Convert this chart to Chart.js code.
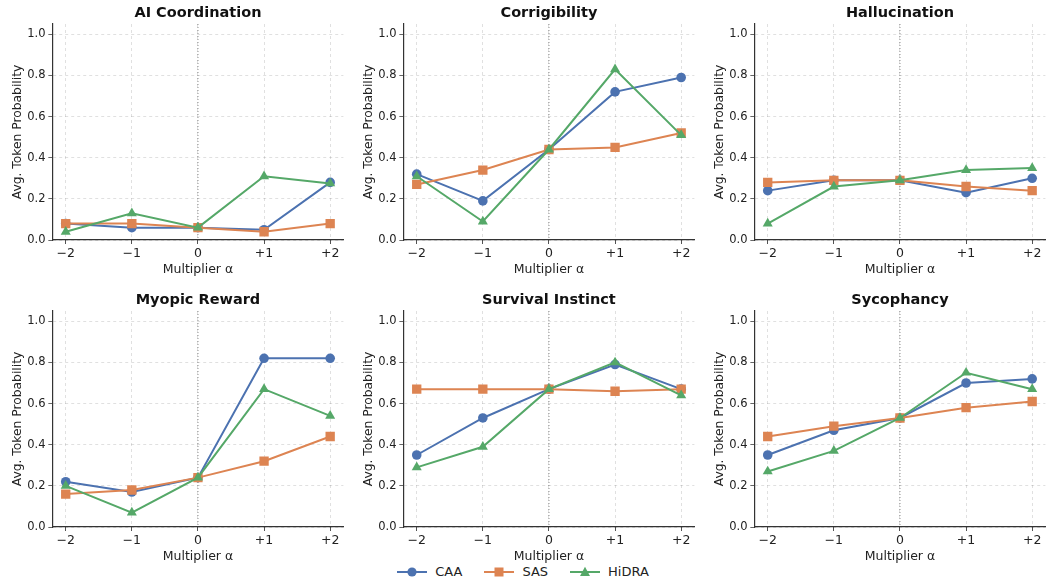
<!DOCTYPE html>
<html>
<head>
<meta charset="utf-8">
<script src="https://cdn.jsdelivr.net/npm/chart.js@4"></script>
<style>
  html, body { margin: 0; padding: 0; background: #fff; overflow: hidden; }
  body { width: 1046px; height: 585px; position: relative; font-family: "DejaVu Sans", sans-serif; }
  .cell { position: absolute; }
  #legend { position: absolute; top: 564px; left: 0; width: 1046px; display: flex; justify-content: center; gap: 22px; font-size: 13px; color: #222; }
  #legend span { display: flex; align-items: center; gap: 8px; }
</style>
</head>
<body>
<div id="grid"></div>
<div id="legend"></div>
<script>
// categories (multiplier alpha) and tick labels
const alphas = [-2, -1, 0, 1, 2];
const alphaLabels = ['\u22122', '\u22121', '0', '+1', '+2'];
const yTicks = [0, 0.2, 0.4, 0.6, 0.8, 1.0];

const titles = ['AI Coordination', 'Corrigibility', 'Hallucination', 'Myopic Reward', 'Survival Instinct', 'Sycophancy'];
const methods = ['CAA', 'SAS', 'HiDRA'];

// values, one array per panel
const caa = [
  [0.08, 0.06, 0.06, 0.05, 0.28],
  [0.32, 0.19, 0.44, 0.72, 0.79],
  [0.24, 0.29, 0.29, 0.23, 0.30],
  [0.22, 0.17, 0.24, 0.82, 0.82],
  [0.35, 0.53, 0.67, 0.79, 0.67],
  [0.35, 0.47, 0.53, 0.70, 0.72]
];
const sas = [
  [0.08, 0.08, 0.06, 0.04, 0.08],
  [0.27, 0.34, 0.44, 0.45, 0.52],
  [0.28, 0.29, 0.29, 0.26, 0.24],
  [0.16, 0.18, 0.24, 0.32, 0.44],
  [0.67, 0.67, 0.67, 0.66, 0.67],
  [0.44, 0.49, 0.53, 0.58, 0.61]
];
const hidra = [
  [0.04, 0.13, 0.06, 0.31, 0.275],
  [0.31, 0.09, 0.44, 0.83, 0.51],
  [0.08, 0.26, 0.29, 0.34, 0.35],
  [0.20, 0.07, 0.24, 0.67, 0.54],
  [0.29, 0.39, 0.67, 0.80, 0.64],
  [0.27, 0.37, 0.53, 0.75, 0.67]
];

const colors = ['#4C72B0', '#DD8452', '#55A868'];
const markers = ['circle', 'rect', 'triangle'];
const markerSize = [4.8, 6.6, 5.8];

// dotted vertical line at alpha = 0
const zeroLine = {
  id: 'zeroLine',
  beforeDatasetsDraw(chart) {
    const x = chart.scales.x.getPixelForValue(0);
    const a = chart.chartArea;
    const ctx = chart.ctx;
    ctx.save();
    ctx.strokeStyle = '#888';
    ctx.lineWidth = 1;
    ctx.setLineDash([1, 2]);
    ctx.beginPath();
    ctx.moveTo(x, a.top);
    ctx.lineTo(x, a.bottom);
    ctx.stroke();
    ctx.restore();
  }
};

const grid = document.getElementById('grid');
const font = 'DejaVu Sans';

const gridOpts = {
  color: 'rgba(0,0,0,0.12)',
  tickColor: '#333',
  tickBorderDash: [1, 0],
  tickLength: 4,
  tickWidth: 1
};

for (let i = 0; i < 6; i++) {
  const col = i % 3, row = Math.floor(i / 3);
  const div = document.createElement('div');
  div.className = 'cell';
  div.style.left = (col * 351) + 'px';
  div.style.top = (row * 287) + 'px';
  const cv = document.createElement('canvas');
  cv.width = 350; cv.height = 277;
  div.appendChild(cv);
  grid.appendChild(div);

  const series = [caa[i], sas[i], hidra[i]];
  const datasets = methods.map((m, k) => ({
    label: m,
    data: alphas.map((a, j) => ({ x: a, y: series[k][j] })),
    borderColor: colors[k],
    backgroundColor: colors[k],
    borderWidth: 2,
    pointStyle: markers[k],
    pointRadius: markerSize[k],
    pointBorderWidth: 0,
    order: 2 - k
  }));

  new Chart(cv, {
    type: 'line',
    data: { datasets: datasets },
    options: {
      responsive: false,
      animation: false,
      layout: { padding: { left: 0, right: 3, top: 0, bottom: 0 } },
      plugins: {
        legend: { display: false },
        tooltip: { enabled: false },
        title: {
          display: true,
          text: titles[i],
          fullSize: false,
          color: '#111',
          font: { family: font, size: 14.5, weight: 'bold', lineHeight: 1 },
          padding: { top: 6, bottom: 3.5 }
        }
      },
      scales: {
        x: {
          type: 'linear',
          min: -2.2, max: 2.2,
          afterBuildTicks: s => { s.ticks = alphas.map(v => ({ value: v })); },
          afterFit: s => { s.height = 37; },
          ticks: {
            color: '#222',
            font: { family: font, size: 12.5 },
            padding: 2,
            callback: (v) => alphaLabels[alphas.indexOf(v)]
          },
          grid: gridOpts,
          border: { color: '#333', width: 1.2, dash: [3, 3] },
          title: {
            display: true,
            text: 'Multiplier \u03b1',
            color: '#222',
            font: { family: font, size: 12.5 },
            padding: { top: 0, bottom: 0 }
          }
        },
        y: {
          min: 0, max: 1.05,
          afterBuildTicks: s => { s.ticks = yTicks.map(v => ({ value: v })); },
          afterFit: s => { s.width = 52.5; },
          ticks: {
            color: '#222',
            font: { family: font, size: 11.5 },
            padding: 3,
            callback: v => v.toFixed(1)
          },
          grid: gridOpts,
          border: { color: '#333', width: 1.2, dash: [3, 3] },
          title: {
            display: true,
            text: 'Avg. Token Probability',
            color: '#222',
            font: { family: font, size: 12.3 },
            padding: { top: 10, bottom: 0 }
          }
        }
      }
    },
    plugins: [zeroLine]
  });
}

// shared legend below the panels
const legend = document.getElementById('legend');
const shapes = [
  c => `<circle cx="15" cy="6" r="4.6" fill="${c}"/>`,
  c => `<rect x="10.5" y="1.5" width="9" height="9" fill="${c}"/>`,
  c => `<polygon points="15,0.8 20,10 10,10" fill="${c}"/>`
];
methods.forEach((m, k) => {
  const s = document.createElement('span');
  s.innerHTML = `<svg width="30" height="12"><line x1="0" y1="6" x2="30" y2="6" stroke="${colors[k]}" stroke-width="2"/>${shapes[k](colors[k])}</svg>${m}`;
  legend.appendChild(s);
});
</script>
</body>
</html>
